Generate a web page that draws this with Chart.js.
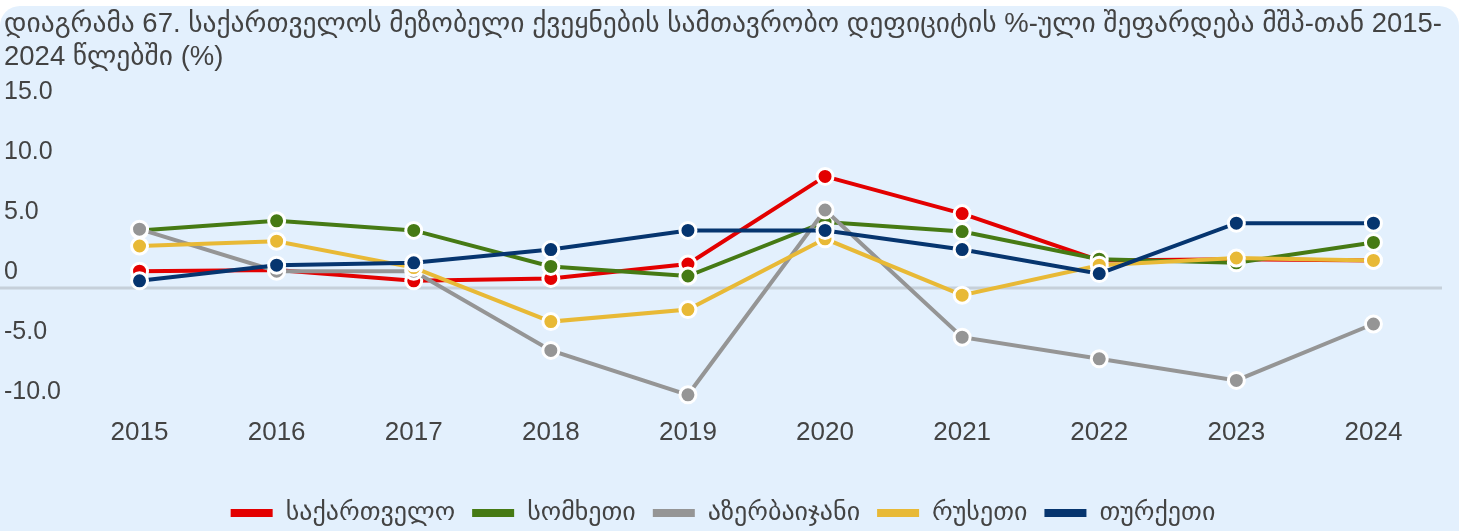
<!DOCTYPE html>
<html lang="ka">
<head>
<meta charset="utf-8">
<title>სამთავრობო დეფიციტი</title>
<script src="https://cdn.jsdelivr.net/npm/chart.js@4.4.1/dist/chart.umd.min.js"></script>
<style>
  html, body { margin: 0; padding: 0; background: #ffffff; overflow: hidden; }
  .panel {
    position: absolute; left: 0; top: 6px; width: 1459px; height: 560px;
    background: #e3f0fd; border-radius: 20px;
  }
  .wrap { position: absolute; left: 0; top: 0; width: 1461px; height: 531px; overflow: hidden; }
</style>
</head>
<body>
<div class="panel"></div>
<div class="wrap"><canvas id="deficit-chart" width="1461" height="536"></canvas></div>
<script>
  const years = ["2015", "2016", "2017", "2018", "2019", "2020", "2021", "2022", "2023", "2024"];

  const georgia = [1.4, 1.5, 0.6, 0.8, 2.0, 9.3, 6.2, 2.3, 2.4, 2.3];
  const armenia = [4.8, 5.6, 4.8, 1.8, 1.0, 5.5, 4.7, 2.4, 2.1, 3.8];
  const azerbaijan = [4.9, 1.4, 1.4, -5.2, -8.9, 6.5, -4.1, -5.9, -7.7, -3.0];
  const russia = [3.5, 3.9, 1.7, -2.8, -1.8, 4.1, -0.6, 1.9, 2.5, 2.3];
  const turkey = [0.6, 1.9, 2.1, 3.2, 4.8, 4.8, 3.2, 1.2, 5.4, 5.4];

  const seriesNames = ["საქართველო", "სომხეთი", "აზერბაიჯანი", "რუსეთი", "თურქეთი"];
  const seriesColors = ["#e30000", "#467a14", "#959595", "#e8b936", "#06356f"];
  const seriesValues = [georgia, armenia, azerbaijan, russia, turkey];

  const yTicks = [15, 10, 5, 0, -5, -10];

  const titleLines = [
    "დიაგრამა 67. საქართველოს მეზობელი ქვეყნების სამთავრობო დეფიციტის %-ული შეფარდება მშპ-თან 2015-",
    "2024 წლებში (%)"
  ];

  const FONT = "'Liberation Sans', Arial, 'DejaVu Sans', sans-serif";
  const TEXT = "#434343";

  // horizontal line at zero, running out to the left edge of the canvas
  const zeroLine = {
    id: "zeroLine",
    beforeDatasetsDraw(chart) {
      const { ctx, chartArea, scales } = chart;
      const y = scales.y.getPixelForValue(0);
      ctx.save();
      ctx.strokeStyle = "#c6d0da";
      ctx.lineWidth = 3;
      ctx.beginPath();
      ctx.moveTo(0, y);
      ctx.lineTo(chartArea.right, y);
      ctx.stroke();
      ctx.restore();
    }
  };

  const datasets = seriesValues.map((values, i) => ({
    label: seriesNames[i],
    data: values,
    borderColor: seriesColors[i],
    backgroundColor: seriesColors[i],
    borderWidth: 4,
    pointRadius: 8,
    pointHoverRadius: 8,
    pointBorderWidth: 3,
    pointBorderColor: "#ffffff",
    pointBackgroundColor: seriesColors[i],
    tension: 0,
    // later series sit on top
    order: seriesValues.length - i
  }));

  new Chart(document.getElementById("deficit-chart"), {
    type: "line",
    data: { labels: years, datasets },
    plugins: [zeroLine],
    options: {
      responsive: false,
      animation: false,
      layout: { padding: { left: 4, right: 19, top: 0, bottom: 0 } },
      scales: {
        x: {
          offset: true,
          grid: { display: false, drawTicks: false },
          border: { display: false },
          ticks: {
            color: TEXT,
            padding: 9,
            font: { family: FONT, size: 26 }
          },
          afterFit(axis) {
            // leave room between the year labels and the legend
            axis.height = 75;
          }
        },
        y: {
          min: -10,
          max: 15,
          afterBuildTicks(axis) {
            axis.ticks = yTicks.map(v => ({ value: v }));
          },
          grid: { display: false, drawTicks: false },
          border: { display: false },
          ticks: {
            color: TEXT,
            padding: 5,
            crossAlign: "far",
            labelOffset: -16,
            font: { family: FONT, size: 25 },
            callback: v => (v === 0 ? "0" : v.toFixed(1))
          }
        }
      },
      plugins: {
        title: {
          display: true,
          text: titleLines,
          align: "start",
          color: TEXT,
          font: { family: FONT, size: 27.5, weight: "normal", lineHeight: 1.2 },
          padding: { top: 8, bottom: 34 }
        },
        legend: {
          position: "bottom",
          labels: {
            color: TEXT,
            boxWidth: 42,
            boxHeight: 8,
            padding: 17,
            font: { family: FONT, size: 26 },
            sort: (a, b) => a.datasetIndex - b.datasetIndex,
            generateLabels(chart) {
              return Chart.defaults.plugins.legend.labels.generateLabels(chart).map(item => {
                item.lineWidth = 0;
                item.fillStyle = item.strokeStyle;
                return item;
              });
            }
          }
        },
        tooltip: { enabled: false }
      }
    }
  });
</script>
</body>
</html>
